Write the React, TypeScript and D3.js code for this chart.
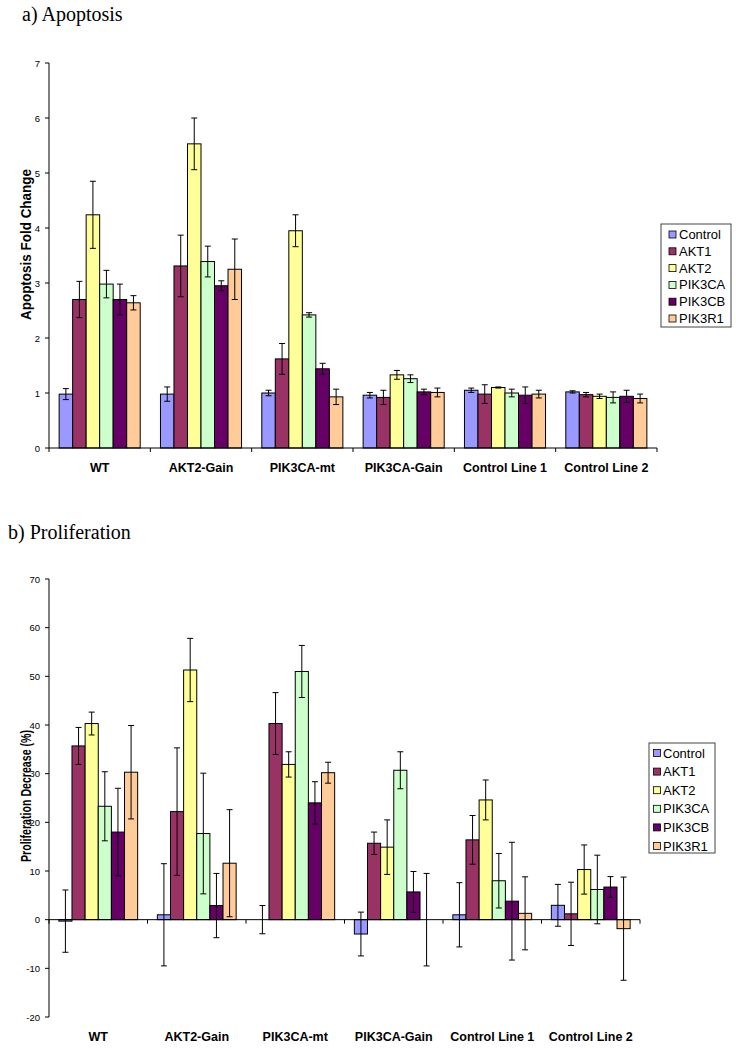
import React from 'react'
import * as d3 from 'd3'

const categories = ['WT', 'AKT2-Gain', 'PIK3CA-mt', 'PIK3CA-Gain', 'Control Line 1', 'Control Line 2']
const series = ['Control', 'AKT1', 'AKT2', 'PIK3CA', 'PIK3CB', 'PIK3R1']
const seriesColors = ['#9999FF', '#993366', '#FFFF99', '#CCFFCC', '#660066', '#FFCC99']

// a) apoptosis fold change, one row per category, one column per series
const apoptosisValues = [
  [0.98, 2.7, 4.24, 2.98, 2.7, 2.64],
  [0.98, 3.31, 5.53, 3.39, 2.95, 3.25],
  [1.0, 1.62, 3.95, 2.42, 1.44, 0.93],
  [0.96, 0.92, 1.33, 1.26, 1.02, 1.01],
  [1.05, 0.98, 1.1, 1.0, 0.96, 0.98],
  [1.02, 0.97, 0.94, 0.92, 0.94, 0.9]
]
const apoptosisErrors = [
  [0.1, 0.33, 0.61, 0.25, 0.28, 0.13],
  [0.13, 0.56, 0.47, 0.28, 0.09, 0.55],
  [0.05, 0.28, 0.29, 0.04, 0.1, 0.14],
  [0.05, 0.13, 0.08, 0.07, 0.05, 0.08],
  [0.04, 0.17, 0.01, 0.07, 0.15, 0.07],
  [0.02, 0.04, 0.04, 0.1, 0.11, 0.08]
]
const apoptosisTicks = [0, 1, 2, 3, 4, 5, 6, 7]

// b) proliferation decrease (%)
const prolifValues = [
  [-0.3, 35.7, 40.3, 23.3, 18.0, 30.3],
  [1.0, 22.2, 51.3, 17.7, 2.9, 11.6],
  [0, 40.3, 31.9, 51.0, 24.0, 30.2],
  [-2.95, 15.7, 14.9, 30.7, 5.7, 0],
  [1.0, 16.4, 24.6, 8.0, 3.8, 1.3],
  [2.95, 1.2, 10.3, 6.2, 6.7, -1.85]
]
const prolifErrors = [
  [6.4, 3.8, 2.35, 7.1, 9.0, 9.6],
  [10.5, 13.1, 6.5, 12.4, 6.6, 11.0],
  [2.9, 6.35, 2.6, 5.35, 4.35, 2.15],
  [4.5, 2.3, 5.6, 3.8, 4.2, 9.5],
  [6.6, 5.0, 4.1, 5.6, 12.1, 7.5],
  [4.3, 6.5, 5.05, 7.05, 2.15, 10.6]
]
const prolifTicks = [-20, -10, 0, 10, 20, 30, 40, 50, 60, 70]

const sans = '"Liberation Sans", Arial, sans-serif'
const serif = '"Liberation Serif", "Times New Roman", serif'

function BarPanel({values, errors, ticks, left, right, top, bottom, labelY, axisTitle, titleY, titleLength, legend}) {
  const y = d3.scaleLinear().domain(d3.extent(ticks)).range([bottom, top])
  const x0 = d3.scaleBand().domain(categories).range([left, right])
  const x1 = d3
    .scaleBand()
    .domain(series)
    .range([0, x0.bandwidth()])
    .paddingOuter(0.75)
  const y0 = y(0)
  const bw = x1.bandwidth()

  return (
    <g>
      {/* bars */}
      {categories.map((cat, ci) =>
        series.map((s, si) => {
          const v = values[ci][si]
          const bx = x0(cat) + x1(s)
          return (
            <rect
              key={cat + s}
              x={bx}
              y={Math.min(y(v), y0)}
              width={bw}
              height={Math.abs(y(v) - y0)}
              fill={seriesColors[si]}
              stroke="#000"
              strokeWidth={1}
            />
          )
        })
      )}
      {/* axes */}
      <line x1={left} x2={left} y1={top} y2={bottom} stroke="#000" />
      <line x1={left} x2={right} y1={y0} y2={y0} stroke="#000" />
      {ticks.map(t => (
        <g key={t}>
          <line x1={left - 4} x2={left} y1={y(t)} y2={y(t)} stroke="#000" />
          <text x={left - 9} y={y(t) + 3.5} textAnchor="end" fontSize={9.5} fontFamily={sans}>
            {t}
          </text>
        </g>
      ))}
      {categories.map(cat => (
        <line key={cat} x1={x0(cat)} x2={x0(cat)} y1={y0} y2={y0 + 4} stroke="#000" />
      ))}
      <line x1={right} x2={right} y1={y0} y2={y0 + 4} stroke="#000" />
      {categories.map(cat => (
        <text
          key={cat}
          x={x0(cat) + x0.bandwidth() / 2}
          y={labelY}
          textAnchor="middle"
          fontSize={12.5}
          fontWeight="bold"
          fontFamily={sans}
        >
          {cat}
        </text>
      ))}
      {/* error bars */}
      {categories.map((cat, ci) =>
        series.map((s, si) => {
          const v = values[ci][si]
          const e = errors[ci][si]
          const cx = x0(cat) + x1(s) + bw / 2
          return (
            <g key={cat + s} stroke="#000" strokeWidth={1}>
              <line x1={cx} x2={cx} y1={y(v + e)} y2={y(v - e)} />
              <line x1={cx - 3} x2={cx + 3} y1={y(v + e)} y2={y(v + e)} />
              <line x1={cx - 3} x2={cx + 3} y1={y(v - e)} y2={y(v - e)} />
            </g>
          )
        })
      )}
      <text
        transform={`translate(31,${titleY}) rotate(-90)`}
        textAnchor="middle"
        fontSize={14}
        fontWeight="bold"
        fontFamily={sans}
        textLength={titleLength}
        lengthAdjust="spacingAndGlyphs"
      >
        {axisTitle}
      </text>
      {/* legend */}
      <rect x={legend.x} y={legend.y} width={legend.w} height={legend.h} fill="#fff" stroke="#444" />
      {series.map((s, si) => {
        const cy = legend.y + legend.first + si * legend.row
        return (
          <g key={s}>
            <rect
              x={legend.x + legend.sw}
              y={cy - 3.5}
              width={7}
              height={7}
              fill={seriesColors[si]}
              stroke="#000"
              strokeWidth={0.8}
            />
            <text x={legend.x + legend.tx} y={cy + 4.5} fontSize={13} fontFamily={sans}>
              {s}
            </text>
          </g>
        )
      })}
    </g>
  )
}

export default function App() {
  return (
    <svg
      width={736}
      height={1050}
      style={{position: 'absolute', left: 0, top: 0, background: '#fff'}}
    >
      <text x={22} y={21} fontSize={20} fontFamily={serif}>
        a) Apoptosis
      </text>
      <BarPanel
        values={apoptosisValues}
        errors={apoptosisErrors}
        ticks={apoptosisTicks}
        left={49}
        right={657}
        top={63}
        bottom={448}
        labelY={472}
        axisTitle="Apoptosis Fold Change"
        titleY={244.5}
        titleLength={151}
        legend={{x: 661, y: 224, w: 70, h: 103, first: 10.5, row: 16.8, sw: 8, tx: 18}}
      />
      <text x={8} y={539} fontSize={20} fontFamily={serif}>
        b) Proliferation
      </text>
      <BarPanel
        values={prolifValues}
        errors={prolifErrors}
        ticks={prolifTicks}
        left={49}
        right={640}
        top={579}
        bottom={1017}
        labelY={1041}
        axisTitle="Proliferation Decrease (%)"
        titleY={796}
        titleLength={132}
        legend={{x: 649, y: 743, w: 66, h: 110, first: 10, row: 18.6, sw: 4.5, tx: 14}}
      />
    </svg>
  )
}
